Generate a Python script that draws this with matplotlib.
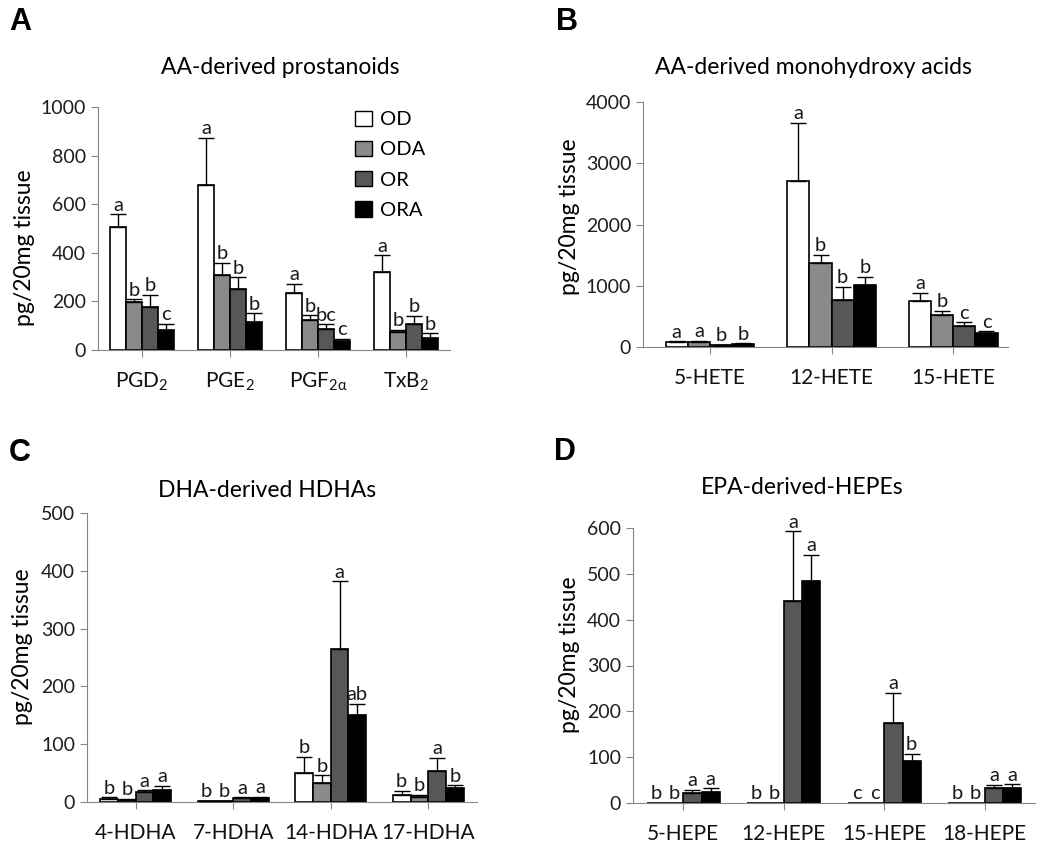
import numpy as np
import matplotlib
matplotlib.use('Agg')
import matplotlib.pyplot as plt
from matplotlib.patches import Patch

plt.rcParams['font.family'] = ['Lato', 'DejaVu Sans']
plt.rcParams['mathtext.fontset'] = 'custom'
plt.rcParams['mathtext.rm'] = 'Lato'
plt.rcParams['mathtext.it'] = 'Lato:italic'
plt.rcParams['mathtext.default'] = 'regular'
plt.rcParams['mathtext.fallback'] = 'stixsans'

groups = ['OD', 'ODA', 'OR', 'ORA']
colors = ['white', '#8a8a8a', '#575757', 'black']

# A: AA-derived prostanoids
a_cats = ['PGD$_2$', 'PGE$_2$', 'PGF$_{2\\alpha}$', 'TxB$_2$']
a_od = [505, 681, 233, 322]
a_oda = [196, 308, 123, 73]
a_or = [178, 253, 86, 105]
a_ora = [82, 116, 36, 48]
a_od_err = [53, 192, 40, 68]
a_oda_err = [12, 50, 19, 9]
a_or_err = [49, 46, 19, 36]
a_ora_err = [25, 35, 9, 20]
a_letters = [['a', 'a', 'a', 'a'], ['b', 'b', 'b', 'b'],
             ['b', 'b', 'bc', 'b'], ['c', 'b', 'c', 'b']]

# B: AA-derived monohydroxy acids
b_cats = ['5-HETE', '12-HETE', '15-HETE']
b_od = [76, 2710, 755]
b_oda = [81, 1368, 526]
b_or = [33, 771, 347]
b_ora = [43, 1010, 222]
b_od_err = [16, 950, 125]
b_oda_err = [14, 136, 65]
b_or_err = [5, 206, 55]
b_ora_err = [17, 140, 33]
b_letters = [['a', 'a', 'a'], ['a', 'b', 'b'], ['b', 'b', 'c'], ['b', 'b', 'c']]

# C: DHA-derived HDHAs
c_cats = ['4-HDHA', '7-HDHA', '14-HDHA', '17-HDHA']
c_od = [5, 1.5, 51, 12]
c_oda = [4, 1.5, 33, 8]
c_or = [18, 7, 265, 54]
c_ora = [20, 7, 150, 24]
c_od_err = [3, 0.5, 27, 7]
c_oda_err = [2, 0.5, 13, 4]
c_or_err = [2, 1, 117, 22]
c_ora_err = [8, 1.5, 20, 5]
c_letters = [['b', 'b', 'b', 'b'], ['b', 'b', 'b', 'b'],
             ['a', 'a', 'a', 'a'], ['a', 'a', 'ab', 'b']]

# D: EPA-derived HEPEs
d_cats = ['5-HEPE', '12-HEPE', '15-HEPE', '18-HEPE']
d_od = [1, 1, 1, 1]
d_oda = [1, 1, 1, 1]
d_or = [22, 440, 175, 33]
d_ora = [25, 485, 91, 33]
d_od_err = [0, 0, 0, 0]
d_oda_err = [0, 0, 0, 0]
d_or_err = [6, 153, 65, 6]
d_ora_err = [7, 57, 17, 8]
d_letters = [['b', 'b', 'c', 'b'], ['b', 'b', 'c', 'b'],
             ['a', 'a', 'a', 'a'], ['a', 'a', 'b', 'a']]

W, H = 1050, 844
fig = plt.figure(figsize=(W / 100, H / 100), dpi=100)


def panel(rect, cats, vals, errs, letters, yticks, xlim, title, title_xy, tag, tag_xy, ylab_xy):
    l, b, w, h = rect
    ax = fig.add_axes([l / W, 1 - b / H, w / W, h / H])
    x = np.arange(len(cats))
    bw = 0.182
    for i in range(4):
        xs = x + (i - 1.5) * bw
        ax.bar(xs, vals[i], bw, color=colors[i], edgecolor='black', linewidth=1.2, zorder=2)
        e = np.array(errs[i], dtype=float)
        m = e > 0
        if m.any():
            ax.errorbar(xs[m], np.array(vals[i])[m], yerr=[np.zeros(m.sum()), e[m]], fmt='none',
                        ecolor='black', elinewidth=1.0, capsize=5.5, capthick=1.0, zorder=3)
        for j in range(len(cats)):
            ax.annotate(letters[i][j], (xs[j], vals[i][j] + errs[i][j]), xytext=(0, 0.5),
                        textcoords='offset points', ha='center', va='bottom',
                        fontsize=14.5, color='#1a1a1a')
    ax.set_xlim(*xlim)
    ax.set_ylim(yticks[0], yticks[-1])
    ax.set_yticks(yticks)
    ax.set_xticks(x)
    ax.set_xticklabels(cats, fontsize=15)
    ax.tick_params(axis='y', labelsize=14, length=5, color='#868686', labelcolor='#1e1e1e')
    ax.tick_params(axis='x', length=5, color='#868686', labelcolor='#111111', pad=10)
    for s in ['top', 'right']:
        ax.spines[s].set_visible(False)
    for s in ['left', 'bottom']:
        ax.spines[s].set_color('#868686')
    fig.text(title_xy[0] / W, 1 - title_xy[1] / H, title, ha='center', va='center', fontsize=16.5)
    fig.text(tag_xy[0] / W, 1 - tag_xy[1] / H, tag, ha='left', va='center', fontsize=22,
             fontweight='bold', family='Liberation Sans')
    fig.text(ylab_xy[0] / W, 1 - ylab_xy[1] / H, 'pg/20mg tissue', rotation=90,
             ha='center', va='center', fontsize=16.5)
    return ax


ax_a = panel((98, 350, 352, 243), a_cats, [a_od, a_oda, a_or, a_ora],
             [a_od_err, a_oda_err, a_or_err, a_ora_err], a_letters,
             [0, 200, 400, 600, 800, 1000], (-0.5, 3.5),
             'AA-derived prostanoids', (280, 67), 'A', (9, 22), (25, 248))
ax_b = panel((643, 347, 365, 245), b_cats, [b_od, b_oda, b_or, b_ora],
             [b_od_err, b_oda_err, b_or_err, b_ora_err], b_letters,
             [0, 1000, 2000, 3000, 4000], (-0.55, 2.45),
             'AA-derived monohydroxy acids', (813, 67), 'B', (556, 22), (570, 217))
ax_c = panel((87, 802, 390, 289), c_cats, [c_od, c_oda, c_or, c_ora],
             [c_od_err, c_oda_err, c_or_err, c_ora_err], c_letters,
             [0, 100, 200, 300, 400, 500], (-0.5, 3.5),
             'DHA-derived HDHAs', (267, 490), 'C', (9, 453), (23, 647))
ax_d = panel((633, 803, 402, 275), d_cats, [d_od, d_oda, d_or, d_ora],
             [d_od_err, d_oda_err, d_or_err, d_ora_err], d_letters,
             [0, 100, 200, 300, 400, 500, 600], (-0.5, 3.5),
             'EPA-derived-HEPEs', (802, 488), 'D', (554, 452), (570, 655))

handles = [Patch(facecolor=c, edgecolor='black', linewidth=1.0) for c in colors]
ax_a.legend(handles, groups, loc='upper left', bbox_to_anchor=(0.68, 1.06), frameon=False,
            fontsize=14.5, handlelength=0.8, handleheight=0.8, handletextpad=0.4, labelspacing=0.62)

fig.savefig('out.png', dpi=100, facecolor='white')
